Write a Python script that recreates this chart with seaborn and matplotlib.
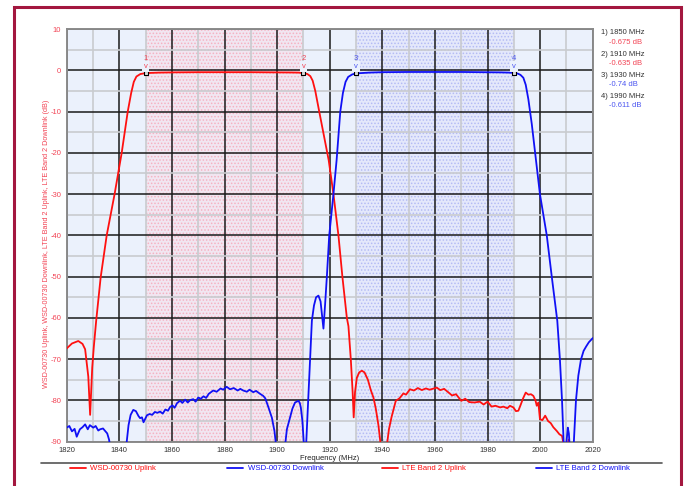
import numpy as np
import pandas as pd
import matplotlib
matplotlib.use("Agg")
import matplotlib.pyplot as plt
import seaborn as sns
from matplotlib.lines import Line2D
from matplotlib.patches import Rectangle

# --- data ---
uplink_freq = [1820, 1822, 1824.4, 1826, 1827, 1828.2, 1828.9, 1829.7, 1830.3, 1831.2,
               1832.9, 1835.2, 1838.2, 1840.9, 1843.2, 1844.5, 1845.5, 1846.5, 1848, 1850,
               1855, 1860, 1870, 1880, 1890, 1900, 1905, 1908, 1910, 1911.5,
               1912.6, 1913.5, 1914.5, 1916, 1919.6, 1921.4, 1923.3, 1924.8, 1926.5, 1927.1,
               1928, 1928.7, 1929.1, 1929.6, 1930.3, 1931.2, 1932.2, 1933.2, 1934.5, 1935.6,
               1936.6, 1937.5, 1938.5, 1939.4, 1940.5, 1941.7, 1942.5, 1943.5, 1945.1, 1946.5,
               1948, 1949, 1950.5, 1952, 1953.5, 1955, 1956.5, 1958, 1960.7, 1962,
               1963.5, 1965, 1966.5, 1968, 1970, 1971.5, 1973, 1975, 1977, 1978.5,
               1980, 1981.5, 1983, 1984.8, 1986, 1987.5, 1988.5, 1989.8, 1990.8, 1991.7,
               1992.5, 1993.5, 1994.5, 1995.5, 1996.5, 1997.4, 1998.2, 1998.7, 1999.3, 1999.9,
               2000.8, 2001.9, 2003, 2004, 2005, 2006.3, 2007.3, 2008.3, 2009, 2010,
               2010.8, 2011.5, 2015, 2020]
uplink_db = [-67.4, -66.2, -65.6, -66.3, -67.6, -74.2, -83.5, -72, -67, -60.7,
             -50.2, -40, -30, -20, -10, -5.5, -2.8, -1.5, -0.9, -0.675,
             -0.55, -0.5, -0.45, -0.45, -0.45, -0.5, -0.52, -0.55, -0.635, -0.9,
             -1.4, -2.5, -5, -10, -21.8, -30, -40, -50, -60, -62,
             -70, -78, -84.1, -78, -74.5, -73.2, -72.8, -73.2, -75, -77.5,
             -79.3, -82, -86, -91, -96, -91, -87, -84, -80.1, -79.5,
             -78.3, -78.6, -77.3, -77.6, -77.0, -77.5, -77.1, -77.4, -76.9, -77.5,
             -77.2, -78, -78.8, -78.5, -80.1, -79.6, -80.4, -80.5, -80.3, -81,
             -80.3, -81.5, -81.3, -81.7, -81.5, -81.9, -81.3, -81.7, -82.6, -82.5,
             -81.2, -79.5, -78.1, -78.6, -78.5, -78.9, -80, -81.3, -80.5, -84.5,
             -84.8, -83.7, -85, -85.5, -86.5, -87.4, -88.2, -88.6, -91, -95,
             -89.5, -95, -100, -100]

downlink_freq = [1820, 1821, 1822, 1823, 1823.8, 1825, 1826, 1827, 1828, 1828.8,
                 1830.1, 1831, 1832, 1832.7, 1833.8, 1834.6, 1835.4, 1836.1, 1836.7, 1838,
                 1841, 1842.3, 1842.8, 1843.5, 1844.3, 1845.3, 1846.3, 1847.3, 1847.9, 1848.6,
                 1849.2, 1850.5, 1851.5, 1852.5, 1853.5, 1854.5, 1855.5, 1856.5, 1857.5, 1858.5,
                 1859.3, 1860.2, 1861, 1862, 1863.1, 1864, 1865, 1866, 1867, 1868.1,
                 1869, 1870, 1871, 1872, 1873, 1874, 1875.7, 1877, 1878.5, 1879.5,
                 1880.8, 1882.1, 1883.5, 1885, 1886, 1887.1, 1888.5, 1889.5, 1890.9, 1892,
                 1893.5, 1894.7, 1895.5, 1896.7, 1898, 1899, 1899.6, 1900.5, 1902, 1903,
                 1903.7, 1904.9, 1905.8, 1906.8, 1907.5, 1908.1, 1908.6, 1909, 1909.6, 1910.2,
                 1910.6, 1911, 1911.8, 1912.5, 1913.2, 1914, 1914.8, 1915.7, 1916.5, 1917,
                 1917.6, 1918.2, 1918.9, 1919.8, 1921.4, 1922.6, 1924, 1925, 1926, 1927,
                 1928.5, 1930, 1935, 1940, 1950, 1960, 1970, 1980, 1985, 1988,
                 1990, 1991.5, 1992.5, 1993.6, 1994.5, 1995.5, 1996.8, 1998.4, 1999.9, 2002.5,
                 2004.4, 2006.5, 2007.5, 2008.3, 2008.9, 2009.4, 2010, 2010.5, 2010.9, 2011.3,
                 2012, 2012.8, 2013.6, 2014.5, 2015.5, 2016.5, 2017.5, 2018.5, 2020]
downlink_db = [-86.6, -86.2, -87.5, -86.9, -88.8, -87, -86.5, -85.8, -87, -86,
               -86.6, -86.2, -87.3, -87, -86.8, -87.4, -88, -89.5, -92, -98,
               -98, -93, -90, -86, -83.5, -82.3, -82.6, -83.8, -84.3, -84.1,
               -85.3, -83.6, -83.3, -83.5, -82.8, -83, -82.7, -83.2, -82.2, -82.5,
               -81.6, -81.2, -81.8, -80.6, -80.1, -80.6, -79.8, -80.5, -79.9, -79.7,
               -80.3, -79.3, -79.6, -79, -79.4, -78.4, -77.6, -77.9, -77.1, -77.4,
               -76.7, -77.3, -77, -77.6, -77.2, -77.6, -77.9, -77.4, -78, -77.7,
               -78.4, -78.9, -79.5, -81.7, -84.2, -87.5, -91, -96, -96, -91,
               -87, -84.2, -82, -80.5, -80.3, -80.1, -80.6, -81.7, -85, -91,
               -95, -91, -80, -70, -60.7, -57, -55, -54.6, -56, -59,
               -62.6, -57, -50, -40, -30, -21.8, -10, -5.5, -2.8, -1.6,
               -1.0, -0.74, -0.55, -0.45, -0.4, -0.4, -0.4, -0.45, -0.5, -0.55,
               -0.611, -0.8, -1.1, -1.8, -3.5, -7, -13, -21.8, -30, -40,
               -50, -60.7, -70.1, -80, -90, -95, -90, -86.6, -88, -92,
               -96, -90, -80, -74, -70.1, -68, -66.9, -65.9, -64.9]

marker_freq = [1850, 1910, 1930, 1990]
marker_db = [-0.675, -0.635, -0.74, -0.611]
marker_names = ["1", "2", "3", "4"]

band_up = (1850, 1910)
band_down = (1930, 1990)

legend_labels = ["WSD-00730 Uplink", "WSD-00730 Downlink", "LTE Band 2 Uplink", "LTE Band 2 Downlink"]
x_ticks = list(range(1820, 2021, 20))
y_ticks = list(range(-90, 11, 10))

RED = "#FF1010"
BLUE = "#1010F5"
RED_TXT = "#F24455"
BLUE_TXT = "#4B55F0"

sns.set_theme(style="white")
plt.rcParams['font.family'] = ['Liberation Sans', 'DejaVu Sans']
plt.rcParams['hatch.linewidth'] = 0.7
plt.rcParams['axes.unicode_minus'] = False

fig = plt.figure(figsize=(6.85, 4.86), dpi=100)
ax = fig.add_axes([0.0974, 0.0912, 0.768, 0.849])
ax.set_facecolor("#EBF1FC")

# band shading (dotted)
ax.axvspan(*band_up, facecolor="#F1E6F1", edgecolor="#F5B2C2", hatch=".....", lw=0, zorder=0.2)
ax.axvspan(*band_down, facecolor="#E4E8FB", edgecolor="#B4BBF4", hatch=".....", lw=0, zorder=0.2)

df_up = pd.DataFrame({"freq": uplink_freq, "db": uplink_db})
df_down = pd.DataFrame({"freq": downlink_freq, "db": downlink_db})
sns.lineplot(data=df_up, x="freq", y="db", color=RED, lw=1.3, estimator=None, sort=False, ax=ax, zorder=3)
sns.lineplot(data=df_down, x="freq", y="db", color=BLUE, lw=1.3, estimator=None, sort=False, ax=ax, zorder=3)

# markers
df_m = pd.DataFrame({"freq": marker_freq, "db": marker_db})
sns.scatterplot(data=df_m, x="freq", y="db", marker="s", s=7, color="#DDDDDD",
                edgecolor="black", linewidth=0.8, ax=ax, zorder=4)
for f, name, c in zip(marker_freq, marker_names, [RED_TXT, RED_TXT, BLUE_TXT, BLUE_TXT]):
    ax.text(f, 2.75, name, color=c, fontsize=5.5, ha="center", va="center", zorder=5)
    ax.text(f, 0.9, "v", color=c, fontsize=5.5, ha="center", va="center", zorder=5,
            bbox=dict(facecolor="#EBF1FC", edgecolor="none", pad=1.2))

ax.set_xlim(1820, 2020)
ax.set_ylim(-90, 10)
ax.set_xticks(x_ticks)
ax.set_yticks(y_ticks)
ax.set_xticks(np.arange(1830, 2020, 20), minor=True)
ax.set_yticks(np.arange(-85, 10, 10), minor=True)
ax.set_axisbelow(True)
ax.grid(which="minor", color="#C9CBCF", lw=1.2)
ax.grid(which="major", color="#1A1A1A", lw=1.1)
ax.tick_params(which="both", length=0, labelsize=5.5, pad=4)
ax.tick_params(axis="y", labelcolor=RED_TXT)
ax.tick_params(axis="x", labelcolor="#333333")
for s in ax.spines.values():
    s.set_color("#8A8A8A")
    s.set_linewidth(1.4)

ax.set_xlabel("Frequency (MHz)", fontsize=5.5, labelpad=0.5, color="#222222")
ax.set_ylabel(", ".join(legend_labels) + " (dB)", fontsize=5.2, color=RED_TXT)
ax.yaxis.set_label_coords(-0.031, 0.48)

# marker readouts on the right
for i, (f, v, c) in enumerate(zip(marker_freq, marker_db, [RED_TXT, RED_TXT, BLUE_TXT, BLUE_TXT])):
    y0 = 1 - (33 + i * 21.2) / 486
    fig.text(601 / 685, y0, f"{i + 1}) {f} MHz", fontsize=5.5, color="#333333", va="center")
    fig.text(609 / 685, y0 - 9 / 486, f"{v:g} dB", fontsize=5.5, color=c, va="center")

# legend row, placed like the reference (fixed column starts)
leg_y = 1 - 468 / 486
for x0, lab, c in zip([70, 227, 382, 536], legend_labels, [RED, BLUE, RED, BLUE]):
    fig.add_artist(Line2D([x0 / 685, (x0 + 16) / 685], [leg_y] * 2, color=c, lw=1.3))
    fig.text((x0 + 20.5) / 685, leg_y, lab, color=c, fontsize=5.6, va="center")

# separator line above legend and outer border
fig.add_artist(Line2D([41 / 685, 662 / 685], [1 - 462.7 / 486] * 2, color="#555555", lw=1.2))
fig.add_artist(Rectangle((13.7 / 685, -0.05), (681 - 13.7) / 685, 1.05 - 6.7 / 486,
                         fill=False, edgecolor="#A3173F", lw=2.2))

fig.savefig("out.png", dpi=100)
